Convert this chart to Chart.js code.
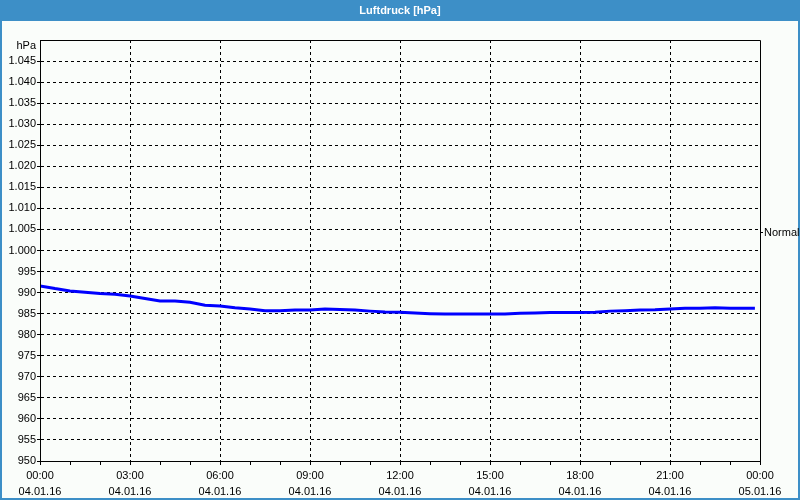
<!DOCTYPE html>
<html>
<head>
<meta charset="utf-8">
<script src="https://cdn.jsdelivr.net/npm/chart.js@4/dist/chart.umd.min.js"></script>
<style>
  html, body { margin: 0; padding: 0; background: #fafdfa; }
  #wrap { width: 800px; height: 500px; position: relative; }
</style>
</head>
<body>
<div id="wrap"><canvas id="c" width="800" height="500"></canvas></div>
<script>
// ---- Data ----
const chartTitle = 'Luftdruck [hPa]';
const unitLabel = 'hPa';
const normalLabel = 'Normal';
const normalValue = 1004.4;

// hours since 04.01.16 00:00
const hours = [0, 0.5, 1, 1.5, 2, 2.5, 3, 3.5, 4, 4.5, 5, 5.5, 6, 6.5, 7, 7.5, 8, 8.5, 9, 9.5,
  10, 10.5, 11, 11.5, 12, 12.5, 13, 13.5, 14, 14.5, 15, 15.5, 16, 16.5, 17, 17.5, 18, 18.5, 19, 19.5,
  20, 20.5, 21, 21.5, 22, 22.5, 23, 23.5, 23.83];
const pressure = [991.6, 990.95, 990.4, 990.1, 989.8, 989.6, 989.2, 988.6, 988.0, 988.0, 987.7, 987.0,
  986.8, 986.4, 986.1, 985.7, 985.7, 985.85, 985.85, 986.1, 986.0, 985.85, 985.6, 985.4, 985.35,
  985.15, 985.0, 984.9, 984.9, 984.9, 984.9, 984.9, 985.1, 985.15, 985.25, 985.3, 985.3, 985.35,
  985.6, 985.7, 985.85, 985.9, 986.1, 986.3, 986.3, 986.4, 986.3, 986.3, 986.3];

const timeLabels = ['00:00', '03:00', '06:00', '09:00', '12:00', '15:00', '18:00', '21:00', '00:00'];
const dateLabels = ['04.01.16', '04.01.16', '04.01.16', '04.01.16', '04.01.16', '04.01.16', '04.01.16', '04.01.16', '05.01.16'];

const yMin = 950, yMax = 1050, yStep = 5;
const xMin = 0, xMax = 24, xMajor = 3;

const FONT = 'Liberation Sans, Arial, sans-serif';
const FRAME = '#3d8fc7';

const framePlugin = {
  id: 'frame',
  beforeDraw(chart) {
    const ctx = chart.ctx;
    ctx.save();
    ctx.fillStyle = '#fafdfa';
    ctx.fillRect(0, 0, chart.width, chart.height);
    ctx.restore();
  },
  afterDraw(chart) {
    const ctx = chart.ctx;
    const a = chart.chartArea;
    const ys = chart.scales.y;
    ctx.save();
    ctx.setLineDash([]);
    // title bar + frame
    ctx.fillStyle = FRAME;
    ctx.fillRect(0, 0, chart.width, 21);
    ctx.fillRect(0, 0, 2, chart.height);
    ctx.fillRect(chart.width - 2, 0, 2, chart.height);
    ctx.fillRect(0, chart.height - 2, chart.width, 2);
    ctx.fillStyle = '#ffffff';
    ctx.font = 'bold 11px ' + FONT;
    ctx.textAlign = 'center';
    ctx.textBaseline = 'middle';
    ctx.fillText(chartTitle, chart.width / 2, 11);
    // plot border (all four sides, solid)
    ctx.strokeStyle = '#000';
    ctx.lineWidth = 1;
    ctx.beginPath();
    ctx.rect(Math.round(a.left) + 0.5, Math.round(a.top) + 0.5,
             Math.round(a.right) - Math.round(a.left), Math.round(a.bottom) - Math.round(a.top));
    ctx.stroke();
    // unit label
    ctx.fillStyle = '#000';
    ctx.font = '11px ' + FONT;
    ctx.textAlign = 'right';
    ctx.fillText(unitLabel, a.left - 4, a.top + 6);
    // normal marker
    const yn = Math.round(ys.getPixelForValue(normalValue)) + 0.5;
    ctx.beginPath();
    ctx.moveTo(Math.round(a.right), yn);
    ctx.lineTo(Math.round(a.right) + 3, yn);
    ctx.stroke();
    ctx.textAlign = 'left';
    ctx.fillText(normalLabel, a.right + 4, yn);
    ctx.restore();
  }
};

const points = hours.map((h, i) => ({ x: h, y: pressure[i] }));

new Chart(document.getElementById('c'), {
  type: 'line',
  data: {
    datasets: [{
      data: points,
      borderColor: '#0000ff',
      borderWidth: 3,
      pointRadius: 0,
      tension: 0,
      fill: false
    }]
  },
  options: {
    responsive: false,
    animation: false,
    events: [],
    layout: { padding: { top: 40, right: 40, left: 0, bottom: 0 } },
    plugins: { legend: { display: false }, tooltip: { enabled: false }, title: { display: false } },
    scales: {
      x: {
        type: 'linear',
        min: xMin, max: xMax,
        afterFit(scale) { scale.height = 39; },
        border: { display: true, color: '#000', width: 1, dash: [3, 3] },
        grid: {
          color: (c) => {
            const v = c.tick ? c.tick.value : null;
            return (v !== null && v % xMajor === 0 && v !== xMin && v !== xMax) ? '#000' : 'rgba(0,0,0,0)';
          },
          tickColor: '#000',
          tickBorderDash: [1, 0],
          tickLength: 4,
          lineWidth: 1,
          drawTicks: true
        },
        ticks: {
          stepSize: 1,
          autoSkip: false,
          maxRotation: 0,
          padding: 3,
          color: '#000',
          font: { family: FONT, size: 11, lineHeight: 1.45 },
          callback: (v) => {
            if (v % xMajor !== 0) return '';
            const i = v / xMajor;
            return [timeLabels[i], dateLabels[i]];
          }
        }
      },
      y: {
        min: yMin, max: yMax,
        afterFit(scale) { scale.width = 40; },
        border: { display: true, color: '#000', width: 1, dash: [3, 3] },
        grid: {
          color: (c) => {
            const v = c.tick ? c.tick.value : null;
            return (v !== null && v !== yMin && v !== yMax) ? '#000' : 'rgba(0,0,0,0)';
          },
          tickColor: (c) => (c.tick && c.tick.value === yMax) ? 'rgba(0,0,0,0)' : '#000',
          tickBorderDash: [1, 0],
          tickLength: 3,
          lineWidth: 1
        },
        ticks: {
          stepSize: yStep,
          autoSkip: false,
          padding: 1,
          color: '#000',
          font: { family: FONT, size: 11 },
          callback: (v) => {
            if (v === yMax) return '';
            return v >= 1000 ? '1.' + String(v).slice(1) : String(v);
          }
        }
      }
    }
  },
  plugins: [framePlugin]
});
</script>
</body>
</html>
